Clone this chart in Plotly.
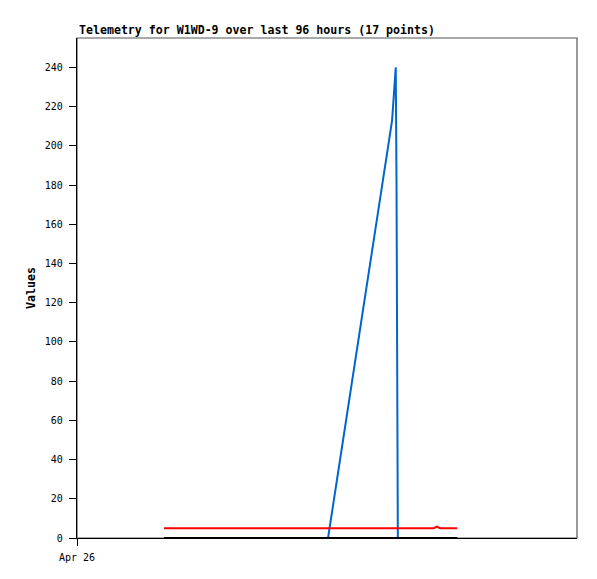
import pandas as pd
import plotly.graph_objects as go

# hours after Apr 26 00:00
hours = [16.7, 20, 30, 40, 48.2, 60.5, 60.8, 61.2, 61.35, 61.5, 61.6, 65, 68.5, 69.1, 69.7, 71, 73.0]
blue_vals = [0, 0, 0, 0, 0, 213, 224, 240, 180, 60, 0, 0, 0, 0, 0, 0, 0]
red_vals = [5, 5, 5, 5, 5, 5, 5, 5, 5, 5, 5, 5, 5, 5.8, 5, 5, 5]
black_vals = [0] * 17

start = pd.Timestamp("2024-04-26 00:00")
times = [start + pd.Timedelta(hours=h) for h in hours]
tick_vals = [start]
tick_text = ["Apr 26"]

mono = "DejaVu Sans Mono"

fig = go.Figure()
fig.add_trace(go.Scatter(x=times, y=blue_vals, mode="lines",
                         line=dict(color="#0066cc", width=2)))
fig.add_trace(go.Scatter(x=times, y=red_vals, mode="lines",
                         line=dict(color="#ff0000", width=2)))
fig.add_trace(go.Scatter(x=times, y=black_vals, mode="lines",
                         line=dict(color="#000000", width=2)))

# page body adds 8px margin, so the figure is a bit smaller
fig.update_layout(
    width=589, height=571,
    margin=dict(l=69, r=20, t=30, b=41),
    paper_bgcolor="white", plot_bgcolor="white",
    showlegend=False,
    font=dict(family=mono, size=10, color="black"),
    shapes=[dict(type="rect", xref="paper", yref="paper", x0=0, x1=1, y0=0, y1=1,
                 line=dict(color="#555555", width=1.2), layer="below")],
    annotations=[dict(text="<b>Telemetry for W1WD-9 over last 96 hours (17 points)</b>",
                      xref="paper", yref="paper", x=0, y=1, xanchor="left", yanchor="bottom",
                      yshift=-1, showarrow=False, font=dict(family=mono, size=11.6))],
)
fig.update_xaxes(range=[start, start + pd.Timedelta(hours=96)],
                 tickvals=tick_vals, ticktext=tick_text,
                 showgrid=False, zeroline=False,
                 showline=True, linecolor="black", linewidth=1.2,
                 ticks="outside", ticklen=7, tickcolor="black",
                 ticklabelstandoff=3)
fig.update_yaxes(range=[0, 255], tick0=0, dtick=20,
                 showgrid=False, zeroline=False,
                 showline=True, linecolor="black", linewidth=1.2,
                 ticks="outside", ticklen=7, tickcolor="black",
                 ticklabelstandoff=4,
                 title=dict(text="<b>Values</b>", font=dict(family=mono, size=11.6), standoff=6))

fig.write_html("out.html")
